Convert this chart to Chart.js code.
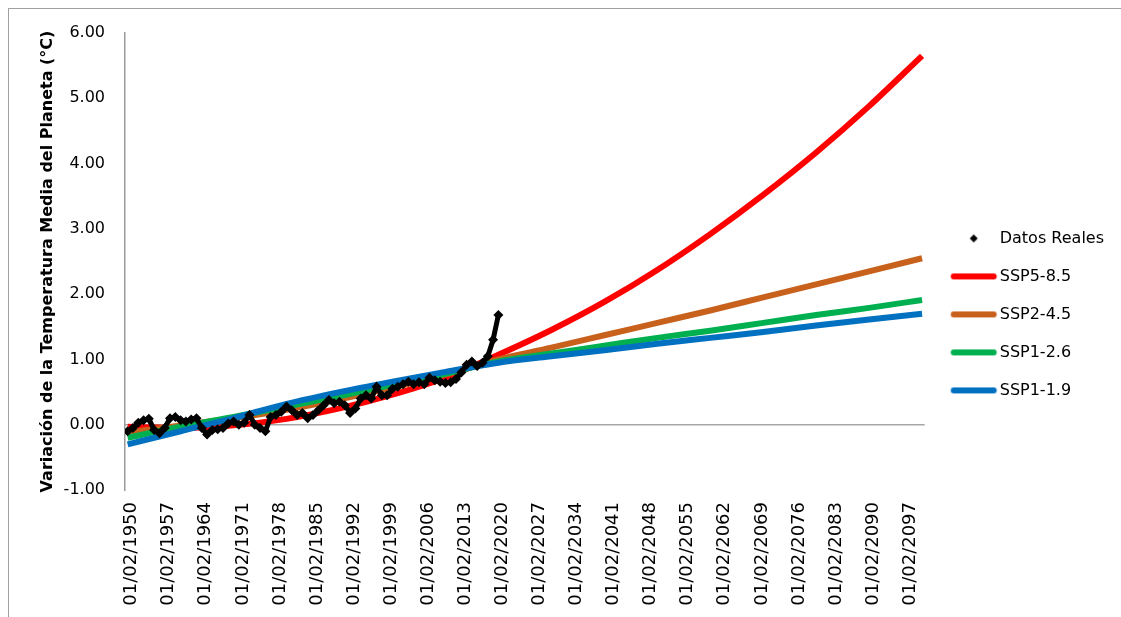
<!DOCTYPE html>
<html>
<head>
<meta charset="utf-8">
<script src="https://cdn.jsdelivr.net/npm/chart.js@4.4.1/dist/chart.umd.min.js"></script>
<style>
  html, body { margin: 0; padding: 0; background: #fff; }
</style>
</head>
<body>
<canvas id="myChart" width="1121" height="617"></canvas>
<script>
// observed anomalies, one value per year
const realYears = [
  1950, 1951, 1952, 1953, 1954, 1955, 1956, 1957, 1958, 1959,
  1960, 1961, 1962, 1963, 1964, 1965, 1966, 1967, 1968, 1969,
  1970, 1971, 1972, 1973, 1974, 1975, 1976, 1977, 1978, 1979,
  1980, 1981, 1982, 1983, 1984, 1985, 1986, 1987, 1988, 1989,
  1990, 1991, 1992, 1993, 1994, 1995, 1996, 1997, 1998, 1999,
  2000, 2001, 2002, 2003, 2004, 2005, 2006, 2007, 2008, 2009,
  2010, 2011, 2012, 2013, 2014, 2015, 2016, 2017, 2018, 2019,
  2020
];
const realValues = [
  -0.10, -0.05, 0.03, 0.07, 0.09, -0.08, -0.13, -0.05, 0.10, 0.12,
  0.07, 0.05, 0.08, 0.10, -0.05, -0.15, -0.08, -0.07, -0.05, 0.02,
  0.05, 0.00, 0.03, 0.15, 0.00, -0.05, -0.10, 0.12, 0.15, 0.20,
  0.28, 0.22, 0.15, 0.18, 0.10, 0.15, 0.22, 0.30, 0.38, 0.33,
  0.35, 0.30, 0.18, 0.25, 0.40, 0.45, 0.40, 0.58, 0.45, 0.45,
  0.55, 0.58, 0.62, 0.66, 0.62, 0.65, 0.62, 0.72, 0.68, 0.66,
  0.64, 0.65, 0.70, 0.80, 0.92, 0.97, 0.90, 0.95, 1.05, 1.30,
  1.68
];

// scenario curves, read every 10 years
const projYears = [1950, 1960, 1970, 1980, 1990, 2000, 2010, 2020, 2030, 2040, 2050, 2060, 2070, 2080, 2090, 2100];
const ssp585 = [-0.03, -0.05, -0.01, 0.09, 0.25, 0.46, 0.72, 1.07, 1.45, 1.88, 2.37, 2.92, 3.52, 4.17, 4.88, 5.65];
const ssp245 = [-0.12, -0.01, 0.10, 0.23, 0.39, 0.57, 0.77, 1.00, 1.18, 1.37, 1.56, 1.75, 1.95, 2.15, 2.35, 2.55];
const ssp126 = [-0.20, -0.03, 0.12, 0.28, 0.44, 0.61, 0.78, 0.97, 1.09, 1.21, 1.33, 1.44, 1.56, 1.68, 1.79, 1.91];
const ssp119 = [-0.30, -0.10, 0.10, 0.32, 0.50, 0.66, 0.81, 0.95, 1.05, 1.14, 1.24, 1.33, 1.42, 1.52, 1.61, 1.70];

const tickYears = [1950, 1957, 1964, 1971, 1978, 1985, 1992, 1999, 2006, 2013, 2020,
  2027, 2034, 2041, 2048, 2055, 2062, 2069, 2076, 2083, 2090, 2097];

const FONT = 'DejaVu Sans';

function pairs(xs, ys) {
  return xs.map((x, i) => ({ x: x, y: ys[i] }));
}

// legend icons: 60px wide image, the mark sits in its right part so the text comes close
function lineIcon(color) {
  const c = document.createElement('canvas');
  c.width = 60; c.height = 10;
  const g = c.getContext('2d');
  g.strokeStyle = color;
  g.lineWidth = 6;
  g.lineCap = 'round';
  g.beginPath();
  g.moveTo(14.5, 5);
  g.lineTo(54.5, 5);
  g.stroke();
  return c;
}
function diamondIcon() {
  const c = document.createElement('canvas');
  c.width = 60; c.height = 12;
  const g = c.getContext('2d');
  g.fillStyle = '#000';
  g.beginPath();
  g.moveTo(34.5, 2); g.lineTo(38.5, 6); g.lineTo(34.5, 10); g.lineTo(30.5, 6);
  g.closePath();
  g.fill();
  return c;
}

const frame = {
  id: 'frame',
  beforeDraw(chart) {
    const c = chart.ctx;
    c.save();
    c.fillStyle = '#fff';
    c.fillRect(0, 0, chart.width, chart.height);
    c.strokeStyle = '#a0a0a0';
    c.lineWidth = 1;
    c.strokeRect(8.5, 8.5, chart.width + 20, chart.height + 20);
    c.restore();
  }
};

const zeroLine = {
  id: 'zeroLine',
  beforeDatasetsDraw(chart) {
    const c = chart.ctx;
    const y = chart.scales.y.getPixelForValue(0);
    c.save();
    c.strokeStyle = '#a6a6a6';
    c.lineWidth = 1.5;
    c.beginPath();
    c.moveTo(chart.chartArea.left, y);
    c.lineTo(chart.chartArea.right, y);
    c.stroke();
    c.restore();
  }
};

const ctx = document.getElementById('myChart');

new Chart(ctx, {
  type: 'line',
  data: {
    datasets: [
      {
        label: 'Datos Reales',
        data: pairs(realYears, realValues),
        borderColor: '#000',
        borderWidth: 5,
        pointStyle: 'rectRot',
        pointRadius: 5,
        pointBackgroundColor: '#000',
        pointBorderWidth: 0,
        order: 0,
        icon: diamondIcon()
      },
      {
        label: 'SSP5-8.5',
        data: pairs(projYears, ssp585),
        borderColor: '#ff0000',
        borderWidth: 6,
        pointRadius: 0,
        cubicInterpolationMode: 'monotone',
        order: 4,
        icon: lineIcon('#ff0000')
      },
      {
        label: 'SSP2-4.5',
        data: pairs(projYears, ssp245),
        borderColor: '#c8611c',
        borderWidth: 6,
        pointRadius: 0,
        cubicInterpolationMode: 'monotone',
        order: 3,
        icon: lineIcon('#c8611c')
      },
      {
        label: 'SSP1-2.6',
        data: pairs(projYears, ssp126),
        borderColor: '#00b050',
        borderWidth: 6,
        pointRadius: 0,
        cubicInterpolationMode: 'monotone',
        order: 2,
        icon: lineIcon('#00b050')
      },
      {
        label: 'SSP1-1.9',
        data: pairs(projYears, ssp119),
        borderColor: '#0070c0',
        borderWidth: 6,
        pointRadius: 0,
        cubicInterpolationMode: 'monotone',
        order: 1,
        icon: lineIcon('#0070c0')
      }
    ]
  },
  options: {
    responsive: false,
    animation: false,
    events: [],
    devicePixelRatio: 1,
    layout: {
      padding: { top: 33, right: 7, bottom: 8, left: 0 }
    },
    plugins: {
      tooltip: { enabled: false },
      legend: {
        position: 'right',
        align: 'start',
        // empty title only pushes the items down to mid height
        title: {
          display: true,
          text: '',
          font: { family: FONT, size: 12 },
          padding: { top: 161, bottom: 0 }
        },
        labels: {
          usePointStyle: true,
          pointStyleWidth: 45,
          boxHeight: 16,
          padding: 22,
          color: '#000',
          font: { family: FONT, size: 16 },
          generateLabels: chart => chart.data.datasets.map((ds, i) => ({
            text: ds.label,
            pointStyle: ds.icon,
            fillStyle: ds.borderColor,
            strokeStyle: ds.borderColor,
            lineWidth: 0,
            hidden: false,
            datasetIndex: i,
            fontColor: '#000'
          }))
        }
      }
    },
    scales: {
      x: {
        type: 'linear',
        min: 1949.5,
        max: 2100.5,
        grid: { display: false, drawTicks: false },
        border: { display: false },
        afterBuildTicks: axis => {
          axis.ticks = tickYears.map(v => ({ value: v }));
        },
        afterFit: axis => { axis.height = 119; },
        ticks: {
          autoSkip: false,
          minRotation: 90,
          maxRotation: 90,
          padding: 12,
          labelOffset: 4,
          color: '#000',
          font: { family: FONT, size: 18 },
          callback: v => '01/02/' + v
        }
      },
      y: {
        min: -1,
        max: 6,
        grid: { display: false, drawTicks: false },
        border: { display: true, color: '#9a9a9a', width: 1.5 },
        afterFit: axis => { axis.width = 125; },
        ticks: {
          stepSize: 1,
          padding: 20,
          color: '#000',
          font: { family: FONT, size: 16 },
          callback: v => v.toFixed(2)
        },
        title: {
          display: true,
          text: 'Variación de la Temperatura Media del Planeta (°C)',
          color: '#000',
          font: { family: FONT, size: 16, weight: 'bold' },
          padding: { top: 38, bottom: 0 }
        }
      }
    }
  },
  plugins: [frame, zeroLine]
});
</script>
</body>
</html>
